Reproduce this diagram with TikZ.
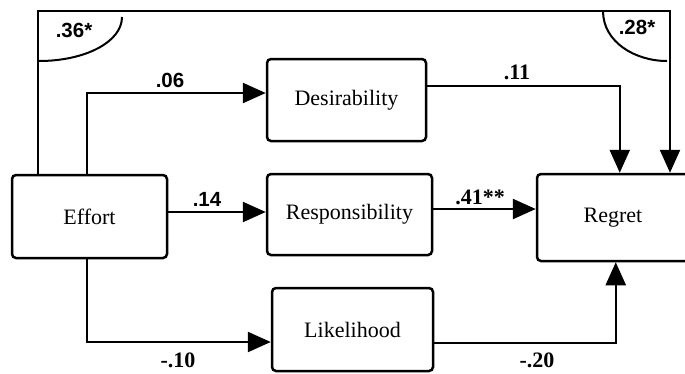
\documentclass[tikz,border=0pt]{standalone}
\usepackage{fontspec}
\setmainfont{Liberation Serif}
\newfontfamily\lsans{Liberation Sans}
\usetikzlibrary{arrows.meta}
\begin{document}
\begin{tikzpicture}[x=1pt,y=-1pt,
  box/.style={draw, line width=2.5pt, rounded corners=4pt, inner sep=0pt, font=\fontsize{22}{26}\selectfont},
  conn/.style={line width=2.5pt},
  arr/.style={conn, -{Triangle[length=23pt,width=20pt]}},
  arc/.style={line width=2pt},
  lbl/.style={font=\bfseries\fontsize{22}{26}\selectfont, inner sep=0pt},
  slbl/.style={font=\lsans\bfseries\fontsize{20.5}{24}\selectfont, inner sep=0pt}]
\clip (0,0) rectangle (685,373);
\node[box, minimum width=155pt, minimum height=83pt] (effort) at (89.5,216.5) {Effort\hspace{20pt}};
\node[box, minimum width=159pt, minimum height=82pt] (desir) at (346.5,100) {Desirability\hspace{34pt}};
\node[box, minimum width=165pt, minimum height=81pt] (resp) at (349.5,214.5) {Responsibility\hspace{4pt}};
\node[box, minimum width=161pt, minimum height=83pt] (lik) at (352.5,329.5) {Likelihood\hspace{28pt}};
\node[box, minimum width=152pt, minimum height=87pt] (regret) at (613,217.5) {Regret};
\coordinate (tr) at (670,11);
% connectors
\draw[arr] ([xshift=76pt]effort.north west) |- ([yshift=7pt]desir.west);
\draw[arr] ([yshift=14pt]desir.east) -| ([xshift=84pt]regret.north west);
\draw[arr] ([yshift=4.5pt]effort.east) -- ([yshift=4.5pt]effort.east -| resp.west);
\draw[arr] ([yshift=5.5pt]resp.east) -- ([yshift=5.5pt]resp.east -| regret.west);
\draw[arr] ([xshift=76pt]effort.south west) |- ([yshift=-12.5pt]lik.west);
\draw[arr] ([yshift=-13.5pt]lik.east) -| ([xshift=80pt]regret.south west);
\draw[arr] ([xshift=27pt]effort.north west) |- (tr) -- (tr |- regret.north);
% correlation arcs
\draw[arc] (39,61) .. controls (85,61) and (122,42) .. (122,17);
\draw[arc] (603,11) .. controls (603,42) and (635,61) .. (667,61);
% labels
\node[slbl] (l36) at (74,30) {.36*};
\node[slbl] (l06) at (170,80) {.06};
\node[lbl] (l11) at (517,72) {.11};
\node[slbl] (l28) at (637,27) {.28*};
\node[slbl] (l14) at (207,199) {.14};
\node[lbl] (l41) at (480,197) {.41**};
\node[lbl] (l10) at (178,360) {-.10};
\node[lbl] (l20) at (537,360) {-.20};
\end{tikzpicture}
\end{document}
